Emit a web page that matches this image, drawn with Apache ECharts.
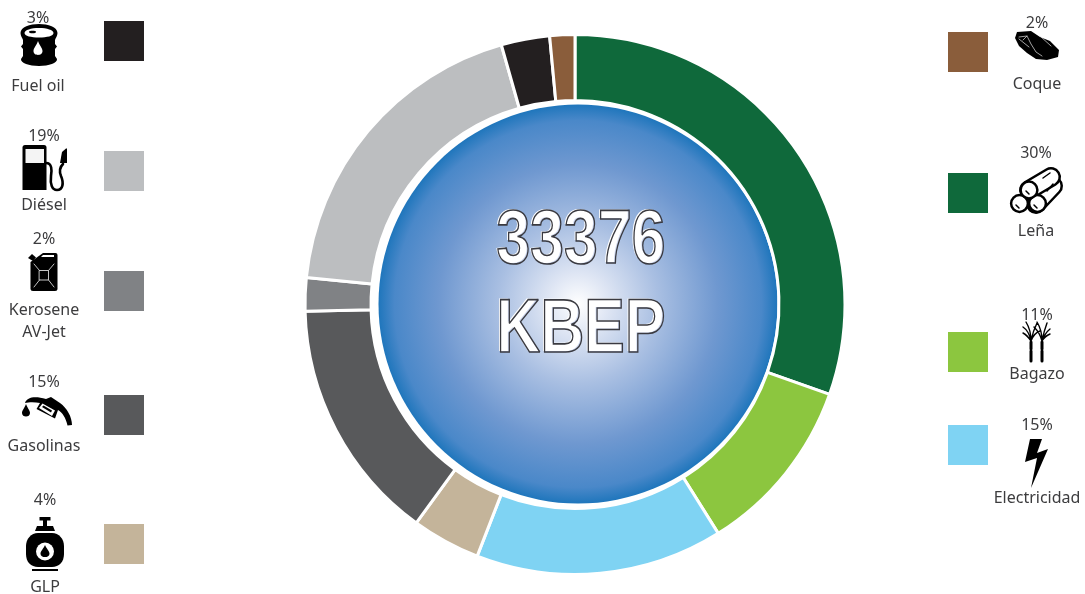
<!DOCTYPE html>
<html><head><meta charset="utf-8">
<style>html,body{margin:0;padding:0;background:#fff}#c{width:1085px;height:594px}</style>
<script src="https://cdn.jsdelivr.net/npm/echarts@6/dist/echarts.min.js"></script>
</head><body><div id="c"></div>
<script>
// ---- data (ring order, clockwise from 12 o'clock)
const categories = ['Leña','Bagazo','Electricidad','GLP','Gasolinas','Kerosene AV-Jet','Diésel','Fuel oil','Coque'];
const shareValues = [30.4,10.7,14.8,4.1,14.6,2.0,19.0,2.9,1.5];
const percentLabels = ['30%','11%','15%','4%','15%','2%','19%','3%','2%'];
const totalText = ['33376','KBEP'];
// ---- styles
const ringColors = ['#0f693b','#8cc63f','#7fd3f3','#c4b49a','#58595b','#808285','#bcbec0','#231f20','#8a5d3b'];
const ink = '#3c3c3e';
const FONT = '"Noto Sans","Open Sans",sans-serif';
// ---- legend layout: swatch x,y / text x / percent y / name lines and y
const legendLayout = [
  {sx:948,sy:173,tx:1036,py:153,names:['Leña'],ny:[231]},
  {sx:948,sy:332,tx:1037,py:315,names:['Bagazo'],ny:[374]},
  {sx:948,sy:425,tx:1037,py:425,names:['Electricidad'],ny:[498]},
  {sx:104,sy:524,tx:45,py:500,names:['GLP'],ny:[587]},
  {sx:104,sy:395,tx:44,py:382,names:['Gasolinas'],ny:[446]},
  {sx:104,sy:271,tx:44,py:239,names:['Kerosene','AV-Jet'],ny:[310,332]},
  {sx:104,sy:151,tx:44,py:136,names:['Diésel'],ny:[205]},
  {sx:104,sy:21,tx:38,py:18,names:['Fuel oil'],ny:[86]},
  {sx:948,sy:32,tx:1037,py:23,names:['Coque'],ny:[84]}
];
const K='#000', W='#fff';
const fillP=(d,f)=>({type:'path',shape:{pathData:d},style:{fill:f||K,stroke:'none'},silent:true});
const lineP=(d,c,w)=>({type:'path',shape:{pathData:d},style:{fill:'none',stroke:c||K,lineWidth:w||1,lineCap:'round',lineJoin:'round'},silent:true});
const circ=(cx,cy,r,fill,stroke,lw)=>({type:'circle',shape:{cx,cy,r},style:{fill,stroke:stroke||'none',lineWidth:lw||0},silent:true});
const drop=(x,y,w,h,f)=>fillP(`M${x} ${y} C${x-w*0.3} ${y+h*0.3} ${x-w} ${y+h*0.5} ${x-w} ${y+h*0.72} C${x-w} ${y+h*0.92} ${x-w*0.5} ${y+h} ${x} ${y+h} C${x+w*0.5} ${y+h} ${x+w} ${y+h*0.92} ${x+w} ${y+h*0.72} C${x+w} ${y+h*0.5} ${x+w*0.3} ${y+h*0.3} ${x} ${y}Z`,f);
const icons = [
  // barrel
  fillP('M20.5 33 C20.5 27 30 24 39 24 C48 24 57.5 27 57.5 33 C57.5 36 55.5 38 55 40 L55 44 L57 46.5 L55 49 L55 56 L57 59 C57.5 63 49 66 39 66 C29 66 20.5 63 21 59 L23 56 L23 49 L21 46.5 L23 44 L23 40 C22.5 38 20.5 36 20.5 33Z'),
  fillP('M24.5 33 C24.5 30 31 28 39 28 C47 28 53.5 30 53.5 33 C53.5 36 47 37.5 39 37.5 C31 37.5 24.5 36 24.5 33Z',W),
  fillP('M29 32 C29 31 30.5 30.8 32.5 30.8 C34.5 30.8 36 31 36 32 C36 33 34.5 33.2 32.5 33.2 C30.5 33.2 29 33 29 32Z'),
  drop(38,41,4.5,14,W),
  // fuel pump
  fillP('M25 145 L44 145 Q46.5 145 46.5 147.5 L46.5 190 L22.5 190 L22.5 147.5 Q22.5 145 25 145Z'),
  fillP('M25.5 149 L44 149 L44 163 L25.5 163Z','#f4f4f4'),
  lineP('M46 163 C52 163 52 170 51 176 C50 184 52 190 57 190 C63 190 64 183 61 176 C59 171 60 167 63 164',K,2.6),
  fillP('M60 163 L62 152 L66 148.5 L67 148.5 L67 163 Z'),
  // jerrycan
  fillP('M43 253 L55.5 253 Q57.5 253 57.5 255 L57.5 288.5 Q57.5 291 55 291 L33 291 Q30.5 291 30.5 288.5 L30.5 262 Z'),
  fillP('M28 258 L32 254 L36 257.5 L33 261 Z'),
  fillP('M43 255 L54 255 L54 257 L41 257Z',W),
  lineP('M39.5 270.5 L48.5 270.5 L48.5 280 L39.5 280 Z M39.5 270.5 L34 264 M48.5 270.5 L54 264 M39.5 280 L34 287 M48.5 280 L54 287',"#d8d8d8",0.9),
  // gasoline nozzle
  fillP('M25 403 C27 397 35 396 46 399 L51 397 L60 403 C67 408 72 417 72 425 L67.5 425.5 C66 418 62 412 58 410 L55 418.5 L36.5 409 L40 403 C35 402 29 402 25 403Z'),
  fillP('M39 408 L42.5 403.5 L55 410.5 L52 416 Z',W),
  fillP('M42 407 L43.5 405.5 L52 410.5 L51 412.5 Z'),
  drop(26,404,4,12.5),
  // LPG bottle
  fillP('M39.5 517 L50.5 517 L50.5 520.5 L47 520.5 L47 526 L53 526 L55 531 L35 531 L37 526 L43 526 L43 520.5 L39.5 520.5 Z'),
  fillP('M38 533 L52 533 C59 533 64 539 64 546 L64 554 C64 562 59 567 52 567 L38 567 C31 567 26 562 26 554 L26 546 C26 539 31 533 38 533Z'),
  circ(45,551.5,9,W),
  drop(45,545,4.5,12),
  fillP('M32 569 L58 569 L58 571 L32 571Z'),
  // coke lump
  fillP('M1017 32 L1031 31 L1040 37 L1050 41 L1059 50 L1058 57 L1047 60 L1036 59 L1027 53 L1019 46 L1015 38Z'),
  lineP('M1019 37 L1027 36 L1031 44 L1036 52 L1042 56 M1019 39 L1029 47 M1027 36 L1023 40 M1040 36 L1051 46',"#e6e6e6",0.7),
  // firewood
  lineP('M1053 186 L1036 204',K,20), lineP('M1053 186 L1036 204',W,15),
  lineP('M1051 177 L1029 190',K,20), lineP('M1051 177 L1029 190',W,15),
  circ(1019.5,203.5,8.4,W,K,2.5),
  circ(1037.5,203.5,8.4,W,K,2.5),
  circ(1029,190,8.4,W,K,2.5),
  lineP('M1016 205 L1019 208 M1034 205 L1037 208 M1026 191 L1029 194 M1043 178 L1050 173 M1047 191 L1053 184',K,1.5),
  // sugar cane
  lineP('M1031 342 L1031 349 M1031 351 L1031 361 M1042 342 L1042 349 M1042 351 L1042 361',K,3),
  lineP('M1031 341 Q1031 330 1026 322 M1031 341 Q1029 331 1023 327 M1031 341 Q1033 331 1037 323 M1031 341 Q1034 333 1040 331 M1031 341 Q1027 335 1023 333 M1042 341 Q1042 330 1037 322 M1042 341 Q1040 333 1034 327 M1042 341 Q1044 331 1047 323 M1042 341 Q1045 333 1050 329 M1042 341 Q1045 336 1050 334',K,1.4),
  // lightning
  fillP('M1030 439 L1042 439 L1037 453 L1048 449 L1031 488 L1037 458 L1025 462Z')
];
const legendGraphics = [];
categories.forEach((c,i)=>{
  const L = legendLayout[i];
  legendGraphics.push({type:'rect',shape:{x:L.sx,y:L.sy,width:40,height:40},style:{fill:ringColors[i]},silent:true});
  legendGraphics.push({type:'text',x:L.tx,y:L.py,style:{text:percentLabels[i],fill:ink,font:'16px '+FONT,textAlign:'center',textVerticalAlign:'middle'},silent:true});
  L.names.forEach((n,j)=>legendGraphics.push({type:'text',x:L.tx,y:L.ny[j],style:{text:n,fill:ink,font:'16px '+FONT,textAlign:'center',textVerticalAlign:'middle'},silent:true}));
});
const disc = {type:'circle',shape:{cx:578,cy:304,r:199.5},silent:true,
  style:{fill:{type:'radial',x:0.5,y:0.5,r:0.5,colorStops:[
    {offset:0,color:'#ffffff'},{offset:0.15,color:'#dfe6f4'},{offset:0.4,color:'#a9bfe2'},{offset:0.7,color:'#6f98d0'},{offset:0.92,color:'#4a88c9'},{offset:1,color:'#1f76bc'}]}}};
const centerText = [];
totalText.forEach((t,i)=>{
  const y=[242.5,331.5][i], x=581;
  const font='bold 76px "Liberation Sans",Arial,sans-serif';
  const base={type:'text',y,scaleX:0.8,silent:true};
  const st={text:t,font,textAlign:'center',textVerticalAlign:'middle'};
  centerText.push(Object.assign({},base,{x,style:Object.assign({},st,{fill:'#ccd6ee'})}));
  centerText.push(Object.assign({},base,{x:x-1.5,y:y-1,style:Object.assign({},st,{fill:'#ffffff'})}));
  centerText.push(Object.assign({},base,{x,style:Object.assign({},st,{fill:'rgba(0,0,0,0)',stroke:'#3a3a40',lineWidth:1.6})}));
});
const chart = echarts.init(document.getElementById('c'),null,{renderer:'canvas'});
chart.setOption({
  animation:false,
  backgroundColor:'#ffffff',
  series:[{
    type:'pie',center:[575,304.5],radius:[204,270],startAngle:90,clockwise:true,silent:true,
    label:{show:false},labelLine:{show:false},avoidLabelOverlap:false,
    itemStyle:{borderColor:'#ffffff',borderWidth:3},
    data:categories.map((name,i)=>({name,value:shareValues[i],itemStyle:{color:ringColors[i]}}))
  },{
    type:'custom',coordinateSystem:'none',silent:true,z:5,data:[0],
    renderItem:()=>({type:'group',children:icons})
  }],
  graphic:{elements:[disc].concat(legendGraphics,centerText)}
});
</script></body></html>
